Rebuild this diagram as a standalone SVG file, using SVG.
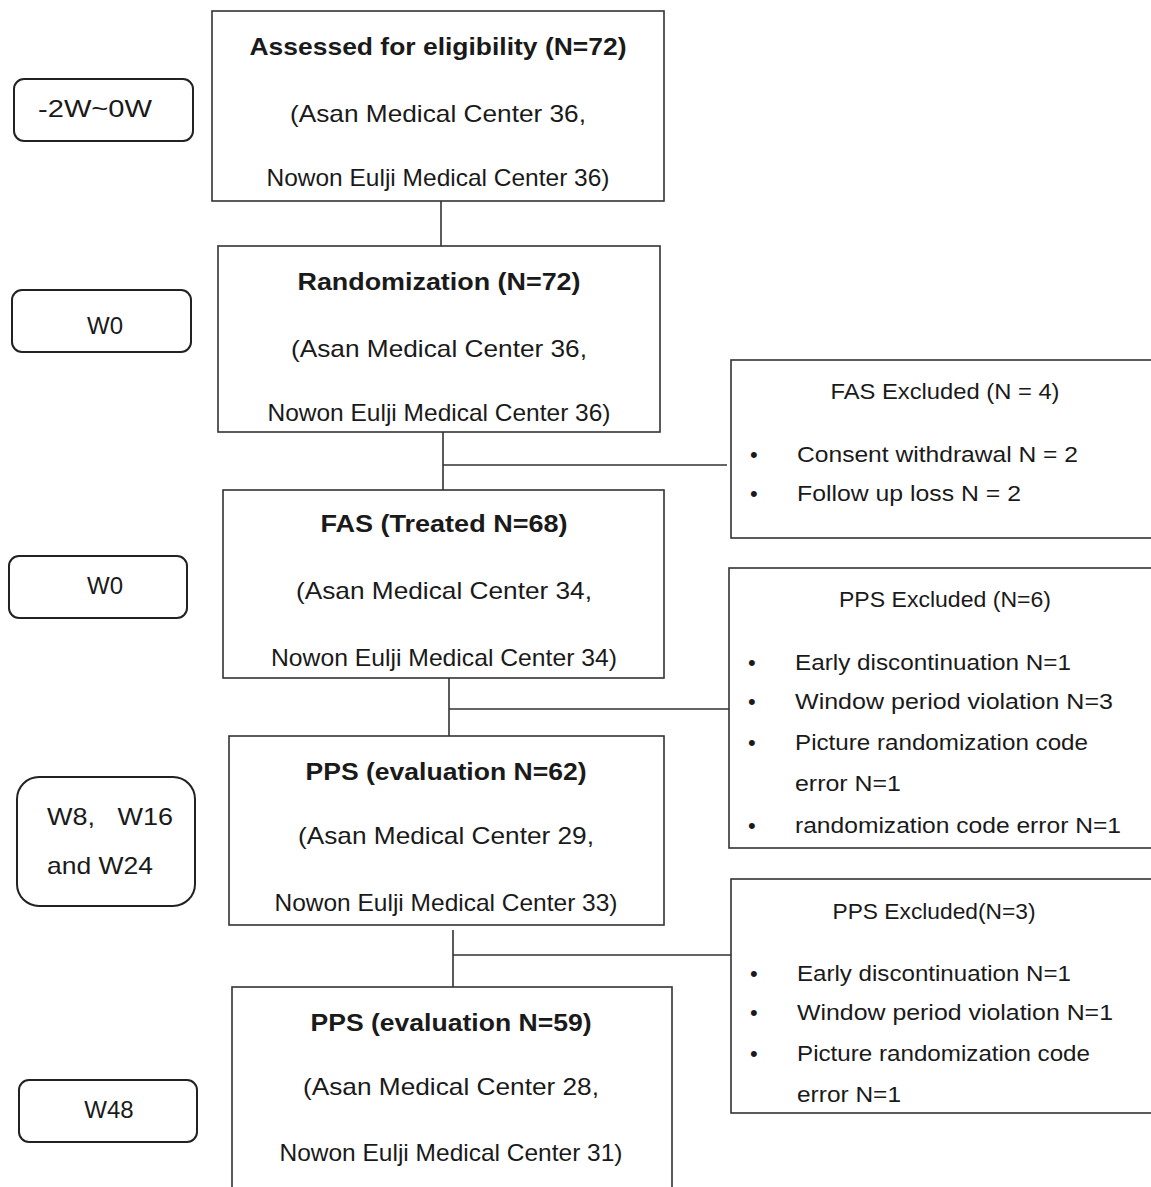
<svg xmlns="http://www.w3.org/2000/svg" width="1151" height="1187" viewBox="0 0 1151 1187">
<style>
.box{fill:#fff;stroke:#333;stroke-width:1.6}
.tag{fill:#fff;stroke:#222;stroke-width:2}
.ln{stroke:#333;stroke-width:1.6;fill:none}
text{font-family:"Liberation Sans","Noto Sans",sans-serif;fill:#1a1a1a;dominant-baseline:central}
.t{font-size:24px;font-weight:bold;text-anchor:middle}
.m{font-size:24px;text-anchor:middle}
.r{font-size:22px}
.rc{font-size:22px;text-anchor:middle}
.l{font-size:24px}
</style>
<rect width="1151" height="1187" fill="#fff"/>
<g id="connectors">
<path class="ln" d="M441,201V246"/>
<path class="ln" d="M443,432V490M443,465H727"/>
<path class="ln" d="M449,678V736M449,709H731"/>
<path class="ln" d="M453,930V987M453,955H731"/>
</g>
<g id="n1"><rect class="box" x="212" y="11" width="452" height="190"/>
<text class="t" x="438" y="46" textLength="377" lengthAdjust="spacingAndGlyphs">Assessed for eligibility (N=72)</text>
<text class="m" x="438" y="113" textLength="296" lengthAdjust="spacingAndGlyphs">(Asan Medical Center 36,</text>
<text class="m" x="438" y="177" textLength="343" lengthAdjust="spacingAndGlyphs">Nowon Eulji Medical Center 36)</text></g>
<g id="n2"><rect class="box" x="218" y="246" width="442" height="186"/>
<text class="t" x="439" y="281" textLength="283" lengthAdjust="spacingAndGlyphs">Randomization (N=72)</text>
<text class="m" x="439" y="348" textLength="296" lengthAdjust="spacingAndGlyphs">(Asan Medical Center 36,</text>
<text class="m" x="439" y="412" textLength="343" lengthAdjust="spacingAndGlyphs">Nowon Eulji Medical Center 36)</text></g>
<g id="n3"><rect class="box" x="223" y="490" width="441" height="188"/>
<text class="t" x="444" y="523" textLength="247" lengthAdjust="spacingAndGlyphs">FAS (Treated N=68)</text>
<text class="m" x="444" y="590" textLength="296" lengthAdjust="spacingAndGlyphs">(Asan Medical Center 34,</text>
<text class="m" x="444" y="657" textLength="346" lengthAdjust="spacingAndGlyphs">Nowon Eulji Medical Center 34)</text></g>
<g id="n4"><rect class="box" x="229" y="736" width="435" height="189"/>
<text class="t" x="446" y="771" textLength="281" lengthAdjust="spacingAndGlyphs">PPS (evaluation N=62)</text>
<text class="m" x="446" y="835" textLength="296" lengthAdjust="spacingAndGlyphs">(Asan Medical Center 29,</text>
<text class="m" x="446" y="902" textLength="343" lengthAdjust="spacingAndGlyphs">Nowon Eulji Medical Center 33)</text></g>
<g id="n5"><rect class="box" x="232" y="987" width="440" height="215"/>
<text class="t" x="451" y="1022" textLength="281" lengthAdjust="spacingAndGlyphs">PPS (evaluation N=59)</text>
<text class="m" x="451" y="1086" textLength="296" lengthAdjust="spacingAndGlyphs">(Asan Medical Center 28,</text>
<text class="m" x="451" y="1152" textLength="343" lengthAdjust="spacingAndGlyphs">Nowon Eulji Medical Center 31)</text></g>
<g id="x1"><rect class="box" x="731" y="360" width="430" height="178"/>
<text class="rc" x="945" y="391" textLength="229" lengthAdjust="spacingAndGlyphs">FAS Excluded (N = 4)</text>
<text class="r" x="750" y="454">•</text><text class="r" x="797" y="454" textLength="281" lengthAdjust="spacingAndGlyphs">Consent withdrawal N = 2</text>
<text class="r" x="750" y="493">•</text><text class="r" x="797" y="493" textLength="224" lengthAdjust="spacingAndGlyphs">Follow up loss N = 2</text></g>
<g id="x2"><rect class="box" x="729" y="568" width="432" height="280"/>
<text class="rc" x="945" y="599" textLength="212" lengthAdjust="spacingAndGlyphs">PPS Excluded (N=6)</text>
<text class="r" x="748" y="662">•</text><text class="r" x="795" y="662" textLength="276" lengthAdjust="spacingAndGlyphs">Early discontinuation N=1</text>
<text class="r" x="748" y="701">•</text><text class="r" x="795" y="701" textLength="318" lengthAdjust="spacingAndGlyphs">Window period violation N=3</text>
<text class="r" x="748" y="742">•</text><text class="r" x="795" y="742" textLength="293" lengthAdjust="spacingAndGlyphs">Picture randomization code</text>
<text class="r" x="795" y="783" textLength="106" lengthAdjust="spacingAndGlyphs">error N=1</text>
<text class="r" x="748" y="825">•</text><text class="r" x="795" y="825" textLength="326" lengthAdjust="spacingAndGlyphs">randomization code error N=1</text></g>
<g id="x3"><rect class="box" x="731" y="879" width="430" height="234"/>
<text class="rc" x="934" y="911" textLength="203" lengthAdjust="spacingAndGlyphs">PPS Excluded(N=3)</text>
<text class="r" x="750" y="973">•</text><text class="r" x="797" y="973" textLength="274" lengthAdjust="spacingAndGlyphs">Early discontinuation N=1</text>
<text class="r" x="750" y="1012">•</text><text class="r" x="797" y="1012" textLength="316" lengthAdjust="spacingAndGlyphs">Window period violation N=1</text>
<text class="r" x="750" y="1053">•</text><text class="r" x="797" y="1053" textLength="293" lengthAdjust="spacingAndGlyphs">Picture randomization code</text>
<text class="r" x="797" y="1094" textLength="104" lengthAdjust="spacingAndGlyphs">error N=1</text></g>
<g id="w1"><rect class="tag" x="14" y="79" width="179" height="62" rx="10"/>
<text class="l" x="38" y="108" textLength="114" lengthAdjust="spacingAndGlyphs">-2W~0W</text></g>
<g id="w2"><rect class="tag" x="12" y="290" width="179" height="62" rx="10"/>
<text class="l" x="105" y="325" text-anchor="middle">W0</text></g>
<g id="w3"><rect class="tag" x="9" y="556" width="178" height="62" rx="10"/>
<text class="l" x="105" y="585" text-anchor="middle">W0</text></g>
<g id="w4"><rect class="tag" x="17" y="777" width="178" height="129" rx="22"/>
<text class="l" x="47" y="816" xml:space="preserve" textLength="126" lengthAdjust="spacingAndGlyphs">W8,   W16</text>
<text class="l" x="47" y="865" textLength="106" lengthAdjust="spacingAndGlyphs">and W24</text></g>
<g id="w5"><rect class="tag" x="19" y="1080" width="178" height="62" rx="10"/>
<text class="l" x="109" y="1109" text-anchor="middle">W48</text></g>
</svg>
